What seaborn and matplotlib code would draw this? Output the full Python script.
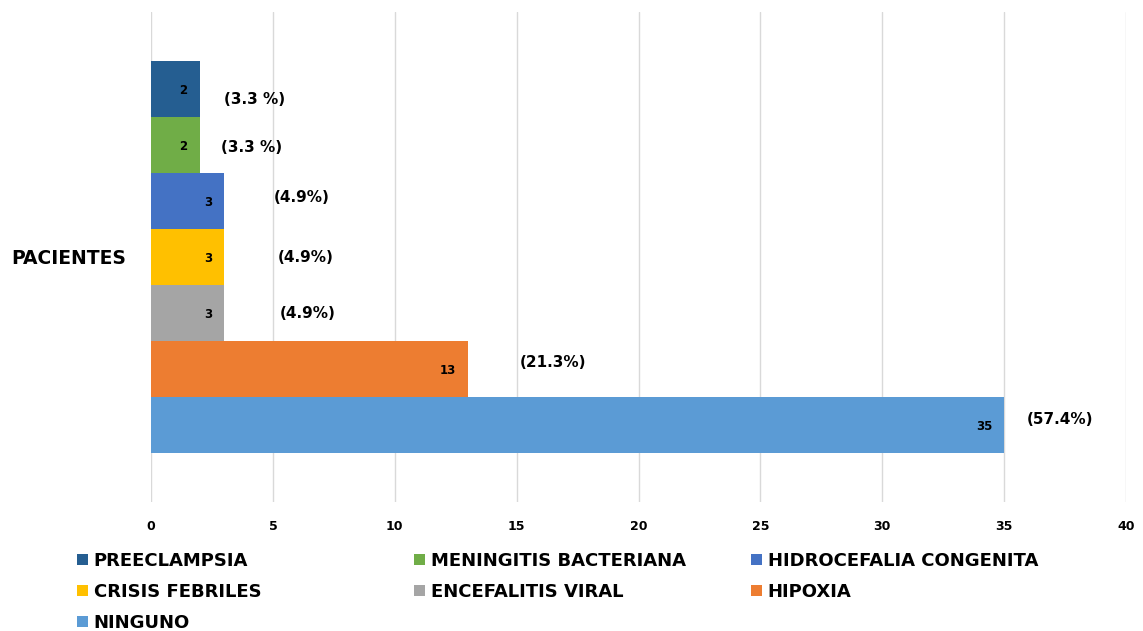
import matplotlib
matplotlib.use("Agg")
import matplotlib.pyplot as plt
import seaborn as sns
import pandas as pd

# ---- data ----
categories = ["PACIENTES"]
series = ["PREECLAMPSIA", "MENINGITIS BACTERIANA", "HIDROCEFALIA CONGENITA",
          "CRISIS FEBRILES", "ENCEFALITIS VIRAL", "HIPOXIA", "NINGUNO"]
counts = [2, 2, 3, 3, 3, 13, 35]
pct_labels = ["(3.3 %)", "(3.3 %)", "(4.9%)", "(4.9%)", "(4.9%)", "(21.3%)", "(57.4%)"]
x_ticks = [0, 5, 10, 15, 20, 25, 30, 35, 40]

# ---- style ----
colors = ["#255E91", "#70AD47", "#4472C4", "#FFC000", "#A5A5A5", "#ED7D31", "#5B9BD5"]
pct_offsets_px = [(55, -11), (52, -2), (78, 3), (82, -1), (84, -1), (85, 7), (56, 5)]

sns.set_style("white")
plt.rcParams['font.family'] = ['DejaVu Sans']
plt.rcParams['text.color'] = 'black'
plt.rcParams['xtick.color'] = 'black'
plt.rcParams['ytick.color'] = 'black'
plt.rcParams['axes.labelcolor'] = 'black'

df = pd.DataFrame({
    "grupo": categories * len(series),
    "causa": series,
    "pacientes": counts,
})

W, H = 1143, 631
fig = plt.figure(figsize=(W / 100, H / 100), dpi=100)
ax = fig.add_axes([151 / W, 1 - 502 / H, 975 / W, 490 / H])

sns.barplot(data=df, y="grupo", x="pacientes", hue="causa", hue_order=series,
            palette=colors, orient="h", errorbar=None, width=0.8, saturation=1,
            linewidth=0, ax=ax, legend=True)

ax.set_xlim(x_ticks[0], x_ticks[-1])
ax.set_ylim(0.5, -0.5)
ax.set_xticks(x_ticks)
ax.set_xticklabels([str(t) for t in x_ticks], fontweight="bold", fontsize=9, color="black")
ax.grid(axis="x", color="#D9D9D9", lw=1)
ax.grid(axis="y", visible=False)
ax.set_axisbelow(True)
for s in ax.spines.values():
    s.set_visible(False)
ax.tick_params(axis="x", length=0, pad=13)
ax.tick_params(axis="y", length=0, pad=18, labelsize=13.5)
for lbl in ax.get_yticklabels():
    lbl.set_fontweight("bold")
    lbl.set_color("black")
ax.set_xlabel("")
ax.set_ylabel("")

# value and percentage labels
for i, cont in enumerate(ax.containers):
    for bar in cont:
        w = bar.get_width()
        yc = bar.get_y() + bar.get_height() / 2
        ax.annotate(f"{w:g}", (w, yc), xytext=(-12, -1), textcoords="offset pixels",
                    ha="right", va="center", fontsize=8.5, fontweight="bold", color="black")
        dx, dy = pct_offsets_px[i]
        ax.annotate(pct_labels[i], (w, yc), xytext=(dx, dy), textcoords="offset pixels",
                    ha="center", va="center", fontsize=11, fontweight="bold", color="black")

# legend: three columns laid out row-wise like the original
leg = ax.get_legend()
handles = list(leg.legend_handles)
labels = [t.get_text() for t in leg.get_texts()]
leg.remove()

col_groups = [[0, 3, 6], [1, 4], [2, 5]]
col_x = [77, 414, 751]
for grp, cx in zip(col_groups, col_x):
    lg = fig.legend([handles[k] for k in grp], [labels[k] for k in grp],
                    loc="upper left", bbox_to_anchor=(cx / W, 1 - 552 / H),
                    bbox_transform=fig.transFigure, frameon=False, borderpad=0,
                    borderaxespad=0, handlelength=0.62, handleheight=0.55,
                    handletextpad=0.3, labelspacing=0.72,
                    prop=dict(weight="bold", size=13))
    for t in lg.get_texts():
        t.set_color("black")

fig.savefig("out.png", dpi=100)
